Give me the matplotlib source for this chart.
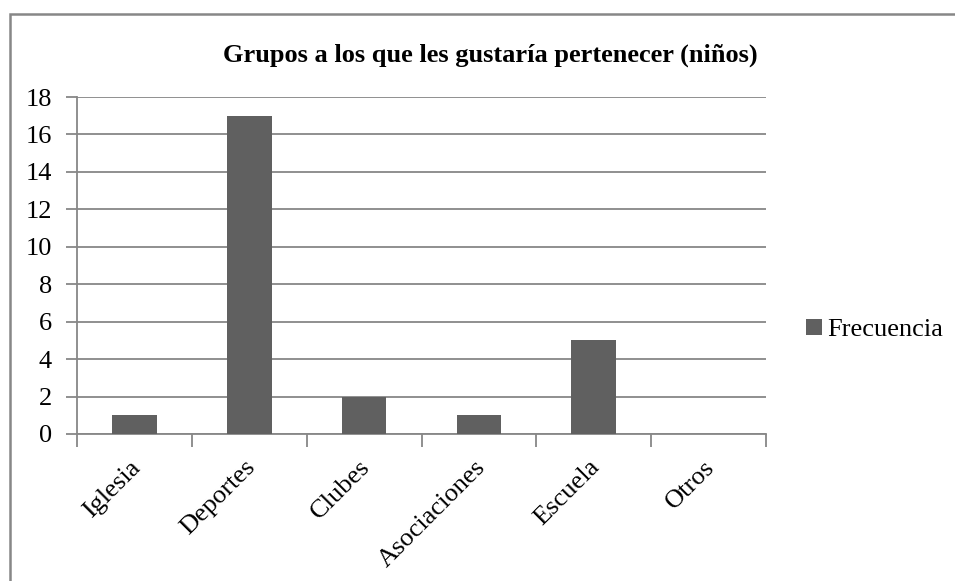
import matplotlib.pyplot as plt
import numpy as np
from matplotlib.patches import Rectangle
from matplotlib.transforms import ScaledTranslation

# Data
categories = ["Iglesia", "Deportes", "Clubes", "Asociaciones", "Escuela", "Otros"]
frecuencia = [1, 17, 2, 1, 5, 0]
yticks = [0, 2, 4, 6, 8, 10, 12, 14, 16, 18]

plt.rcParams['font.family'] = ['Liberation Serif', 'DejaVu Serif']

W, H = 955, 581
fig = plt.figure(figsize=(W / 100, H / 100), dpi=100)
ax = fig.add_axes([77 / W, 1 - 434 / H, (766 - 77) / W, (434 - 97) / H])

grey = '#878787'
x = np.arange(len(categories))
ax.bar(x, frecuencia, width=0.39, color='#606060', label='Frecuencia', zorder=3)

ax.set_xlim(-0.5, len(categories) - 0.5)
ax.set_ylim(0, 18)
ax.set_yticks(yticks)
ax.tick_params(axis='y', labelsize=19, length=8, width=1.3, color=grey, pad=10)
ax.yaxis.grid(True, color=grey, linewidth=1.3, zorder=0)

# category labels and boundary ticks
ax.set_xticks(x)
ax.set_xticklabels(categories, rotation=45, ha='right', rotation_mode='anchor', fontsize=19)
ax.tick_params(axis='x', which='major', length=0, pad=16)
shift = ScaledTranslation(-0.05, 0, fig.dpi_scale_trans)
for lbl in ax.get_xticklabels():
    lbl.set_transform(lbl.get_transform() + shift)
ax.set_xticks(np.arange(len(categories) + 1) - 0.5, minor=True)
ax.tick_params(axis='x', which='minor', length=9, width=1.3, color=grey)

for s in ['top', 'right']:
    ax.spines[s].set_visible(False)
for s in ['left', 'bottom']:
    ax.spines[s].set_color(grey)
    ax.spines[s].set_linewidth(1.3)

fig.text(490 / W, 1 - 55 / H, "Grupos a los que les gustaría pertenecer (niños)",
         ha='center', va='center', fontsize=19, fontweight='bold')

ax.legend(loc='center left', bbox_to_anchor=(806 / W, 1 - 330 / H), bbox_transform=fig.transFigure,
          frameon=False, fontsize=19, handlelength=0.6, handleheight=0.6, handletextpad=0.2,
          borderpad=0, borderaxespad=0)

# outer chart border (only left and top visible in the crop)
fig.patches.append(Rectangle((10 / W, -0.1), 1.2, 1 - 14 / H + 0.1, transform=fig.transFigure,
                             fill=False, edgecolor=grey, linewidth=1.8))

fig.savefig('out.png', dpi=100)
